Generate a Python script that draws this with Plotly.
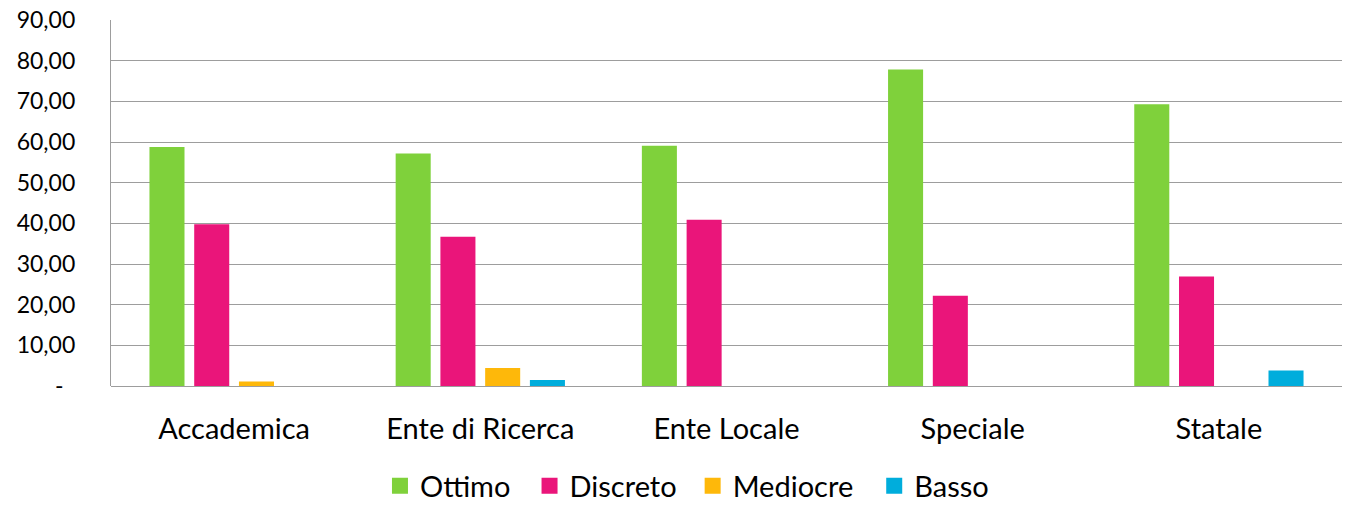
import plotly.graph_objects as go

categories = ["Accademica", "Ente di Ricerca", "Ente Locale", "Speciale", "Statale"]
ottimo = [58.8, 57.2, 59.1, 77.8, 69.3]
discreto = [39.8, 36.7, 40.9, 22.2, 26.9]
mediocre = [1.1, 4.4, 0, 0, 0]
basso = [0, 1.5, 0, 0, 3.8]

series = [
    ("Ottimo", ottimo, "#7FD13B"),
    ("Discreto", discreto, "#EA157A"),
    ("Mediocre", mediocre, "#FEB80A"),
    ("Basso", basso, "#00ADDC"),
]

y_ticks = [0, 10, 20, 30, 40, 50, 60, 70, 80, 90]
y_ticktext = ["-\u00a0\u00a0"] + [f"{v},00" for v in y_ticks[1:]]

FONT = "Lato"
# left edge (in paper fraction) of each legend entry, one legend per series
legend_x = [0.2185, 0.3400, 0.4725, 0.6200]
legend_ids = ["legend", "legend2", "legend3", "legend4"]

fig = go.Figure()
for name, vals, color in series:
    fig.add_trace(go.Bar(
        x=categories, y=vals, name=name, legendgroup=name, showlegend=False,
        marker=dict(color=color, line=dict(width=0)),
    ))
# legend entries with larger square swatches
for (name, vals, color), lid in zip(series, legend_ids):
    fig.add_trace(go.Scatter(
        x=[None], y=[None], mode="markers", name=name, legendgroup=name,
        legend=lid,
        marker=dict(symbol="square", size=16, color=color),
        hoverinfo="skip",
    ))

legend_style = dict(
    orientation="h", xanchor="left", y=-0.2732, yanchor="middle",
    font=dict(family=FONT, size=29, color="#000000"),
    itemwidth=30, bgcolor="rgba(0,0,0,0)",
)

fig.update_layout(
    width=1355, height=505,
    margin=dict(l=111, r=13, t=20, b=119, autoexpand=False),
    paper_bgcolor="white", plot_bgcolor="white",
    barmode="group", bargap=0.273, bargroupgap=0.217,
    font=dict(family=FONT, color="#000000"),
    showlegend=True,
    **{lid: dict(x=lx, **legend_style) for lid, lx in zip(legend_ids, legend_x)},
)

fig.update_xaxes(
    showgrid=False, showline=False, zeroline=False,
    ticks="", ticklabelstandoff=23,
    tickfont=dict(family=FONT, size=29, color="#000000"),
)
fig.update_yaxes(
    range=[0, 90], tickvals=y_ticks, ticktext=y_ticktext,
    showgrid=True, gridcolor="#9d9d9d", gridwidth=1.3,
    showline=True, linecolor="#9d9d9d", linewidth=1.3,
    zeroline=True, zerolinecolor="#9d9d9d", zerolinewidth=1.3,
    ticks="", ticklabelstandoff=30,
    tickfont=dict(family=FONT, size=23, color="#000000"),
)

fig.write_html("out.html")
